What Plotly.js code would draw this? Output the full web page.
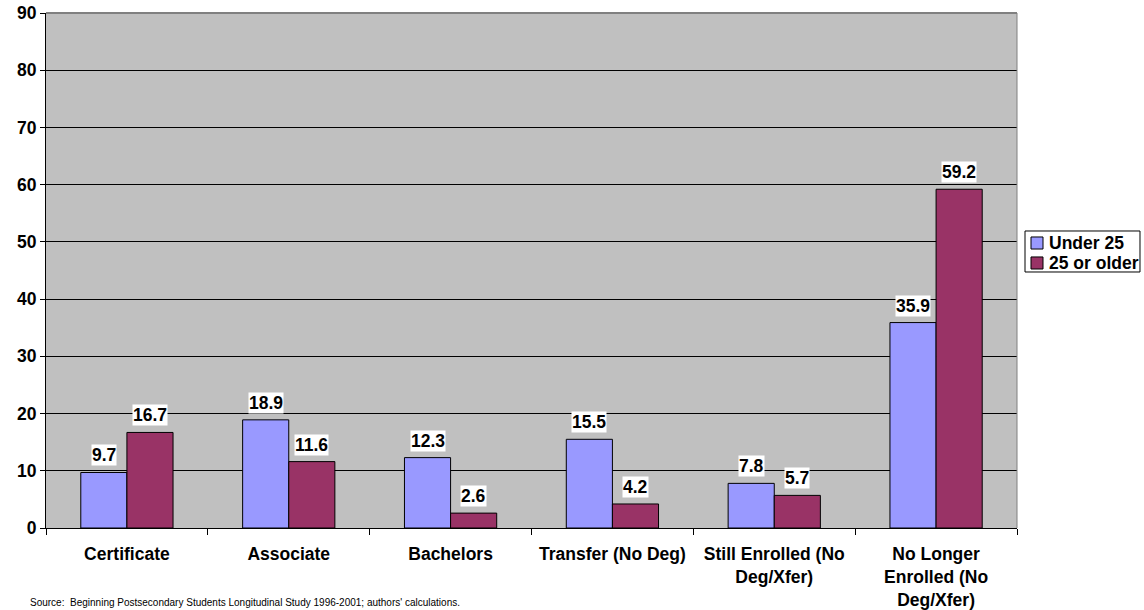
<!DOCTYPE html>
<html>
<head>
<meta charset="utf-8">
<script src="https://cdn.plot.ly/plotly-3.0.1.min.js"></script>
<style>html,body{margin:0;padding:0;background:#fff;}#chart{width:1144px;height:610px;}</style>
</head>
<body>
<div id="chart"></div>
<script>
const categories = ["Certificate", "Associate", "Bachelors", "Transfer (No Deg)", "Still Enrolled (No<br>Deg/Xfer)", "No Longer<br>Enrolled (No<br>Deg/Xfer)"];
const under25 = [9.7, 18.9, 12.3, 15.5, 7.8, 35.9];
const older25 = [16.7, 11.6, 2.6, 4.2, 5.7, 59.2];
const seriesNames = ["Under 25", "25 or older"];
const seriesColors = ["#9999FF", "#993366"];
const yTicks = [0, 10, 20, 30, 40, 50, 60, 70, 80, 90];
const sourceText = "Source:  Beginning Postsecondary Students Longitudinal Study 1996-2001; authors' calculations.";

const FONT = '"Liberation Sans", Arial, sans-serif';
const FS = 17.5;

const traces = [under25, older25].map((vals, si) => ({
  type: "bar", name: seriesNames[si], x: categories, y: vals,
  marker: {color: seriesColors[si], line: {color: "#000000", width: 1}}
}));

const annotations = [];
[under25, older25].forEach((vals, si) => {
  vals.forEach((v, i) => {
    annotations.push({
      x: categories[i], y: v, xref: "x", yref: "y",
      text: "<b>" + v.toFixed(1) + "</b>", showarrow: false,
      xshift: si === 0 ? -23 : 23, yshift: 6, yanchor: "bottom",
      bgcolor: "#FFFFFF", borderpad: 0,
      font: {family: FONT, size: FS, color: "#000"}
    });
  });
});
annotations.push({
  xref: "paper", yref: "paper", x: -0.019, y: -0.145, xanchor: "left", yanchor: "middle",
  text: sourceText, showarrow: false,
  font: {family: FONT, size: 10, color: "#000"}
});

// legend (drawn in paper coordinates to match the original compact box)
const legendY = [0.5534, 0.5146];
const shapes = [
  {type: "line", xref: "paper", yref: "paper", x0: 0, x1: 1, y0: 1, y1: 1, line: {color: "#808080", width: 2}},
  {type: "line", xref: "paper", yref: "paper", x0: 1, x1: 1, y0: 0, y1: 1, line: {color: "#808080", width: 1}},
  {type: "rect", xref: "paper", yref: "paper", x0: 1.00824, x1: 1.12667, y0: 0.4971, y1: 0.5767,
   line: {color: "#000", width: 1}, fillcolor: "#FFFFFF"}
];
seriesNames.forEach((n, si) => {
  const yc = legendY[si];
  shapes.push({type: "rect", xref: "paper", yref: "paper", x0: 1.01442, x1: 1.02678,
    y0: yc - 0.0117, y1: yc + 0.0117, line: {color: "#000", width: 1}, fillcolor: seriesColors[si]});
  annotations.push({xref: "paper", yref: "paper", x: 1.0309, y: yc, xanchor: "left", yanchor: "middle",
    text: "<b>" + n + "</b>", showarrow: false, font: {family: FONT, size: FS, color: "#000"}});
});

const layout = {
  width: 1144, height: 610,
  margin: {l: 46, r: 127, t: 13, b: 82, autoexpand: false},
  paper_bgcolor: "#FFFFFF", plot_bgcolor: "#C0C0C0",
  barmode: "group", bargap: 0.43, bargroupgap: 0,
  showlegend: false,
  xaxis: {type: "category", tickson: "boundaries", ticks: "outside", ticklen: 6, tickcolor: "#000",
    ticklabelstandoff: 10,
    showline: true, linecolor: "#000", linewidth: 1, showgrid: false,
    tickfont: {family: FONT, size: FS, color: "#000", weight: "bold"}},
  yaxis: {range: [0, 90], tickvals: yTicks, ticks: "outside", ticklen: 5, tickcolor: "#000",
    showline: true, linecolor: "#000", linewidth: 1, zeroline: false,
    showgrid: true, gridcolor: "#000000", gridwidth: 1,
    tickfont: {family: FONT, size: FS, color: "#000", weight: "bold"}},
  shapes: shapes,
  annotations: annotations
};

Plotly.newPlot("chart", traces, layout, {displayModeBar: false, staticPlot: true});
</script>
</body>
</html>
